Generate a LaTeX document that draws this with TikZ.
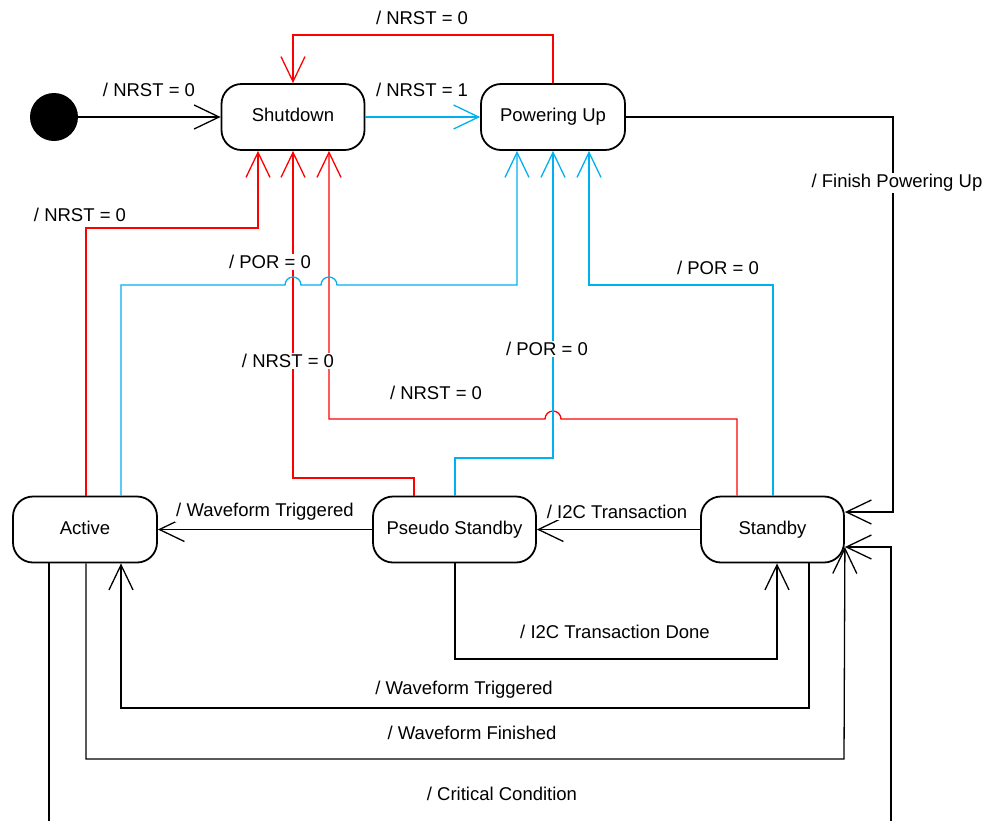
\documentclass[tikz,border=0pt]{standalone}
\usepackage{fontspec}
\setmainfont{Liberation Sans}
\usetikzlibrary{arrows.meta,calc}
\definecolor{ared}{RGB}{255,0,0}
\definecolor{ablue}{RGB}{0,176,240}
\tikzset{
  state/.style={draw=black, line width=1.8pt, rounded corners=20pt, minimum height=66pt, inner sep=0pt, text height=13.3pt, text depth=3.5pt, font=\fontsize{18.5}{20}\selectfont},
  conn/.style={line width=1.3pt, -{Straight Barb[length=25pt,width=24pt]}},
  blk/.style={conn, draw=black},
  rd/.style={conn, draw=ared},
  bl/.style={conn, draw=ablue},
  lbl/.style={fill=white, inner sep=1pt, font=\fontsize{18.5}{20}\selectfont}
}
\begin{document}
\begin{tikzpicture}[x=1pt,y=1pt]
\clip (0,0) rectangle (984,-820);
\useasboundingbox (0,0) rectangle (984,-820);
% states
\node[circle, fill=black, minimum size=48pt, inner sep=0pt] (init) at (54,-117) {};
\node[state, minimum width=143pt] (shut) at (293,-117) {Shutdown};
\node[state, minimum width=144pt] (pwr) at (553,-117) {Powering Up};
\node[state, minimum width=144pt] (act) at (85,-529.5) {Active};
\node[state, minimum width=163pt] (pseudo) at (454.5,-529.5) {Pseudo Standby};
\node[state, minimum width=143pt] (stby) at (772.5,-529.5) {Standby};
\coordinate (wfTip) at ($(stby.east)+(0,-17.5)$);
% top row
\draw[blk] (init) -- (shut);
\node[lbl] (l1) at (149,-90) {/ NRST = 0};
\draw[bl] (shut) -- (pwr);
\node[lbl] (l2) at (422,-90) {/ NRST = 1};
\draw[rd] (pwr.north) -- (553,-35) -| (shut.north);
\node[lbl] (l3) at (422,-18) {/ NRST = 0};
\draw[blk] (pwr.east) -| (893,-512) -- (stby.east |- 0,-512);
\node[lbl] (l4) at (897,-183) {/ Finish Powering Up};
% red lines to Shutdown
\draw[rd] (act.north -| 86,0) |- (258,-228) -- (shut.south -| 258,0);
\node[lbl] (l5) at (80,-215) {/ NRST = 0};
\draw[rd] (pseudo.north -| 414,0) |- (293,-478) -- (shut.south -| 293,0);
\draw[rd] (stby.north -| 737,0) -- (737,-419) -- (561,-419) arc[start angle=0,end angle=180,radius=8] -- (329,-419) -- (shut.south -| 329,0);
\node[lbl] (l6) at (288,-361) {/ NRST = 0};
\node[lbl] (l7) at (436,-393) {/ NRST = 0};
% blue lines to Powering Up
\draw[bl] (act.north -| 121,0) -- (121,-285) -- (285,-285) arc[start angle=180,end angle=0,radius=8] -- (321,-285) arc[start angle=180,end angle=0,radius=8] -- (517,-285) -- (pwr.south -| 517,0);
\node[lbl] (l8) at (270,-262) {/ POR = 0};
\draw[bl] (pseudo.north -| 455,0) |- (553,-458) -- (pwr.south);
\node[lbl] (l9) at (547,-349) {/ POR = 0};
\draw[bl] (stby.north -| 773,0) |- (589,-285) -- (pwr.south -| 589,0);
\node[lbl] (l10) at (718,-268) {/ POR = 0};
% bottom row
\draw[blk] (pseudo) -- (act);
\node[lbl] (l11) at (265,-512) {/ Waveform Triggered};
\draw[blk] (stby) -- (pseudo);
\node[lbl] (l12) at (617,-512) {/ I2C Transaction};
\draw[blk] (pseudo.south -| 455,0) |- (777,-659) -- (stby.south -| 777,0);
\node[lbl] (l13) at (615,-632) {/ I2C Transaction Done};
\draw[blk] (stby.south -| 809,0) |- (121,-708) -- (act.south -| 121,0);
\node[lbl] (l14) at (464,-690) {/ Waveform Triggered};
\draw[blk] (act.south -| 86,0) |- (844,-759) -- (wfTip);
\node[lbl] (l15) at (472,-733) {/ Waveform Finished};
\draw[blk] (act.south -| 49,0) |- (891,-830) |- (wfTip);
\node[lbl] (l16) at (502,-794) {/ Critical Condition};
\end{tikzpicture}
\end{document}
